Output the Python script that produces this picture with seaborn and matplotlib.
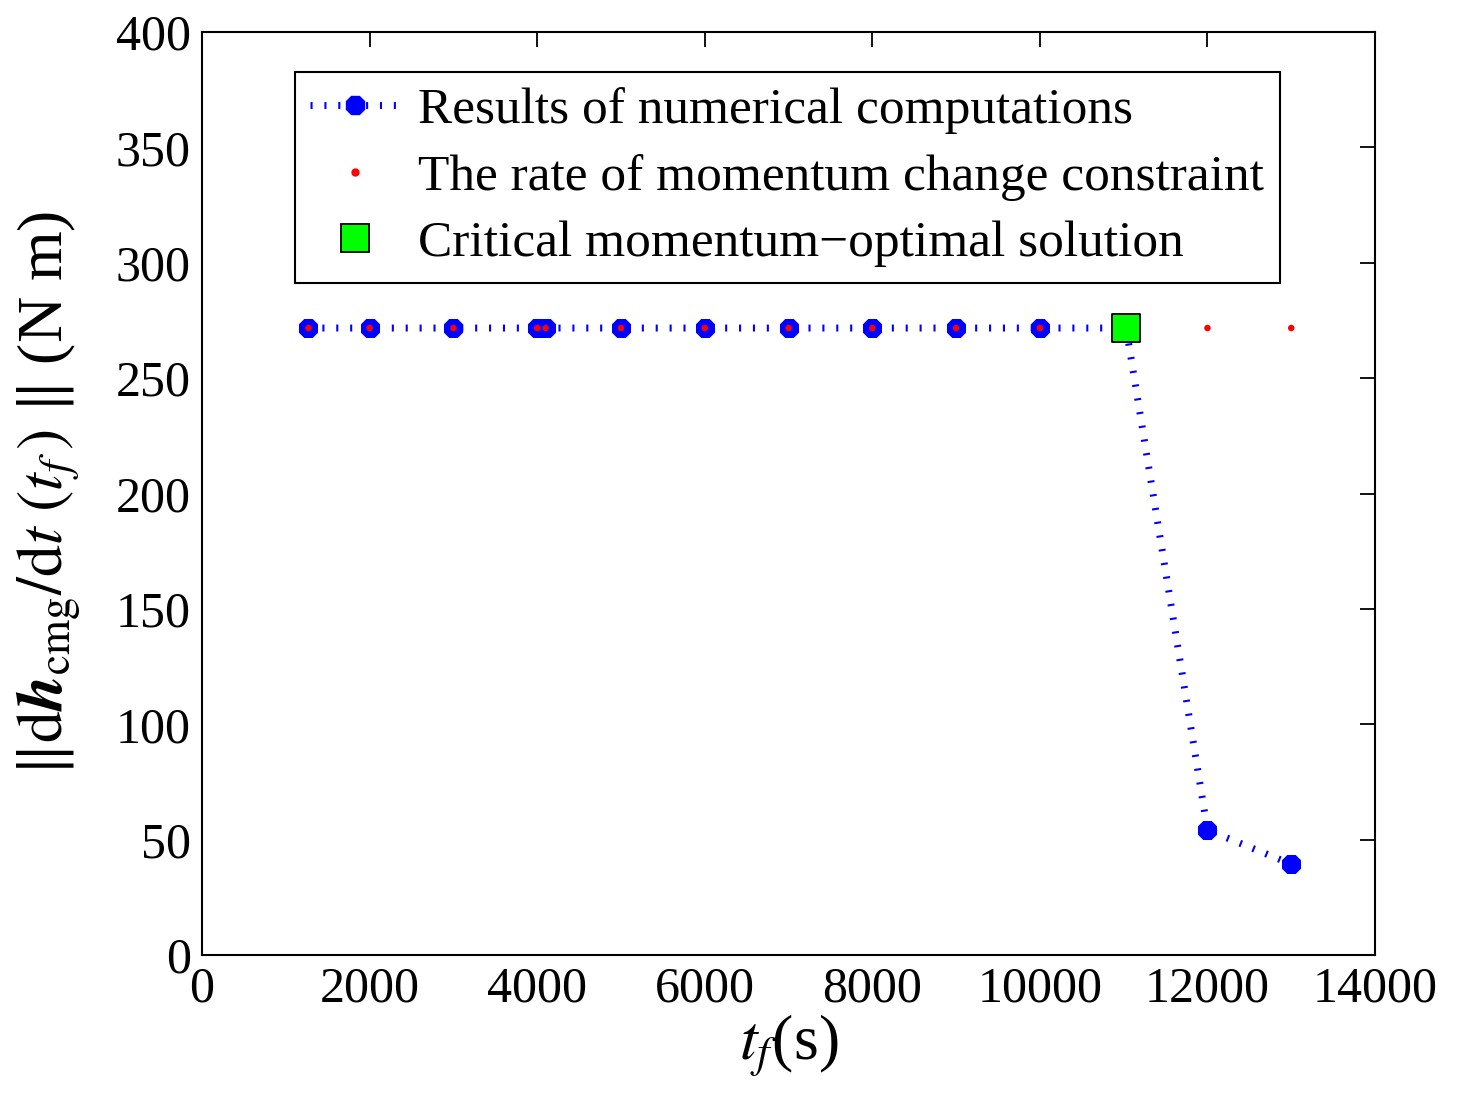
import matplotlib
matplotlib.use("Agg")
import matplotlib.pyplot as plt
from matplotlib.lines import Line2D
import seaborn as sns
import pandas as pd

# Final time t_f (s) and the resulting peak CMG momentum rate (N m)
tf_values = [1270, 2000, 3000, 4000, 4100, 5000, 6000, 7000, 8000, 9000, 10000, 11030, 12000, 13000]
rate_values = [271.7, 271.7, 271.7, 271.7, 271.7, 271.7, 271.7, 271.7, 271.7, 271.7, 271.7, 271.7, 54.2, 39.4]
constraint_value = 271.7
critical_tf = [11030]
critical_rate = [271.7]

x_ticks = [0, 2000, 4000, 6000, 8000, 10000, 12000, 14000]
y_ticks = [0, 50, 100, 150, 200, 250, 300, 350, 400]

legend_labels = [
    "Results of numerical computations",
    "The rate of momentum change constraint",
    "Critical momentum\u2212optimal solution",
]

sns.set_theme(style="white")
plt.rcParams["font.family"] = ["Liberation Serif", "DejaVu Serif"]
plt.rcParams["mathtext.fontset"] = "stix"
plt.rcParams["text.color"] = "black"
plt.rcParams["axes.labelcolor"] = "black"

df = pd.DataFrame({"tf": tf_values, "rate": rate_values})
df_con = pd.DataFrame({"tf": tf_values, "rate": [constraint_value] * len(tf_values)})
df_crit = pd.DataFrame({"tf": critical_tf, "rate": critical_rate})

fig = plt.figure(figsize=(14.6, 11.1), dpi=100)
ax = fig.add_axes([0.1384, 0.1396, 0.8034, 0.8316])

line_dashes = (0.3, 1.7)
sns.lineplot(data=df, x="tf", y="rate", ax=ax, color="blue", marker="8",
             markersize=14, markeredgecolor="blue", linewidth=5, sort=False,
             zorder=2)
blue_line = ax.lines[-1]
blue_line.set_dashes(line_dashes)
blue_line.set_dash_capstyle("butt")

sns.scatterplot(data=df_con, x="tf", y="rate", ax=ax, color="red", s=22,
                edgecolor="none", zorder=3)
sns.scatterplot(data=df_crit, x="tf", y="rate", ax=ax, color="#00ff00",
                marker="s", s=20 ** 2, edgecolor="black", linewidth=1.3,
                zorder=4)

ax.set_xlim(0, 14000)
ax.set_ylim(0, 400)
ax.set_xticks(x_ticks)
ax.set_yticks(y_ticks)
ax.set_xticklabels([str(v) for v in x_ticks])
ax.set_yticklabels([str(v) for v in y_ticks])
ax.tick_params(axis="both", which="both", direction="in", length=11, width=1.3,
               labelsize=36, top=True, right=True, color="black",
               labelcolor="black", pad=8)
for s in ax.spines.values():
    s.set_visible(True)
    s.set_color("black")
    s.set_linewidth(1.5)

ax.set_xlabel(r"$t_f$(s)", fontsize=46, labelpad=0, color="black")
ax.set_ylabel(r"$\Vert\mathrm{d}\mathbfit{h}_{\mathrm{cmg}}/\mathrm{d}t\ (t_f\,)\ \Vert\ $(N m)",
              fontsize=46, labelpad=24, color="black")

h_blue = Line2D([], [], color="blue", marker="8", markersize=14,
                markeredgecolor="blue", linewidth=5, dashes=line_dashes,
                dash_capstyle="butt")
h_red = Line2D([], [], color="red", marker="o", markersize=5, linestyle="none")
h_green = Line2D([], [], color="#00ff00", marker="s", markersize=20,
                 markeredgecolor="black", markeredgewidth=1.3, linestyle="none")
leg = ax.legend([h_blue, h_red, h_green], legend_labels, loc="upper left",
                bbox_to_anchor=(0.0793, 0.9567), borderaxespad=0,
                fontsize=37, frameon=True, fancybox=False, framealpha=1,
                edgecolor="black", handlelength=1.75, handletextpad=0.35,
                borderpad=0.3, labelspacing=0.38)
leg.get_frame().set_linewidth(1.5)
for t in leg.get_texts():
    t.set_color("black")

fig.savefig("out.png", dpi=100, facecolor="white")
